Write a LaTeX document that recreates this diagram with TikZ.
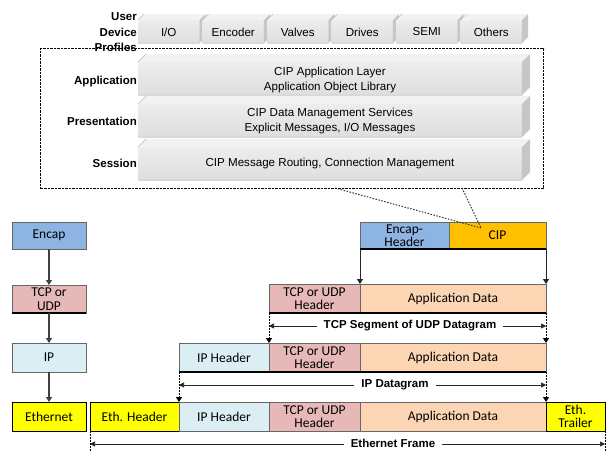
\documentclass[tikz,border=0pt]{standalone}
\usepackage{fontspec}
\setmainfont{Liberation Sans}
\newfontfamily\calib{Carlito}
\usetikzlibrary{arrows.meta}

\definecolor{encapblue}{HTML}{8EB4E3}
\definecolor{cipgold}{HTML}{FFC000}
\definecolor{tcppink}{HTML}{E6B9B8}
\definecolor{apppeach}{HTML}{FCD5B5}
\definecolor{iplight}{HTML}{DBEEF4}
\definecolor{ethyellow}{HTML}{FFFF00}

\tikzset{
  cell/.style={draw=black!60, line width=0.6pt, inner sep=0pt, outer sep=0pt,
    anchor=north west, align=center, font=\calib\fontsize{13.5}{13}\selectfont},
  slabtext/.style={font=\fontsize{11.6}{15}\selectfont, align=center, inner sep=0pt},
  layerlabel/.style={font=\bfseries\fontsize{11.5}{15.5}\selectfont, align=right,
    anchor=east, inner sep=0pt},
  dimlabel/.style={font=\bfseries\fontsize{11.5}{12}\selectfont, fill=white,
    inner xsep=7pt, inner ysep=1pt},
  flowarrow/.style={draw=black!75, line width=1.3pt, -{Triangle[length=5pt,width=6pt]}},
  encdrop/.style={draw=black!85, line width=1pt, -{Triangle[length=5pt,width=6pt]}},
  dimdrop/.style={draw=black, line width=1pt, dash pattern=on 2pt off 1pt,
    -{Triangle[length=5pt,width=6pt]}},
  dimtick/.style={draw=black, line width=1pt, dash pattern=on 2pt off 1pt},
  dimline/.style={draw=black!85, line width=0.7pt,
    {Triangle[length=5pt,width=5pt]}-{Triangle[length=5pt,width=5pt]}},
  rowbase/.style={draw=black, line width=2pt},
  calloutbox/.style={draw=black, line width=1.3pt, dash pattern=on 2.5pt off 1pt,
    anchor=north west, inner sep=0pt},
  calloutline/.style={draw=black!80, line width=1pt, dash pattern=on 1.5pt off 1.5pt},
}

% coloured protocol cell: name, x1, y1, x2, y2, fill, text
\newcommand\cellat[7]{%
  \pgfmathsetmacro\cellw{#4-#2}\pgfmathsetmacro\cellh{#5-#3}%
  \node[cell, fill=#6, minimum width=\cellw pt, minimum height=\cellh pt] (#1) at (#2,#3) {#7};}

% grey 3-D block: x1, y1, x2, y2, depth
\newcommand\slab[5]{%
  \fill[gray!10] (#1,#2) -- (#1+#5,#2-#5) -- (#3+#5,#2-#5) -- (#3,#2) -- cycle;
  \fill[gray!45] (#3,#2) -- (#3+#5,#2-#5) -- (#3+#5,#4-#5) -- (#3,#4) -- cycle;
  \shade[top color=gray!14, bottom color=gray!26] (#1,#2) rectangle (#3,#4);
  \draw[gray!55, line width=0.4pt] (#1,#2) -- (#1+#5,#2-#5) (#1,#4) -- (#3,#4) -- (#3,#2);
}

\begin{document}
\begin{tikzpicture}[x=1pt,y=-1pt]
\clip (0,0) rectangle (607,450);
\fill[white] (0,0) rectangle (607,450);

% ---------- CIP stack ----------
\node[calloutbox, minimum width=503pt, minimum height=140pt] (cbox) at (40,48) {};

\foreach \lab [count=\i from 0] in {I/O,Encoder,Valves,Drives,SEMI,Others}{
  \pgfmathsetmacro\xa{138+64.5*\i}
  \slab{\xa}{20}{\xa+61.5}{43}{6}
  \node[slabtext] (prof\i) at (\xa+30.75,32) {\lab};
}

\slab{138}{62}{522}{95}{8}
\slab{138}{104}{522}{137}{8}
\slab{138}{147}{522}{180}{8}

\node[slabtext] (applayer) at (330,79.5) {CIP Application Layer\\Application Object Library};
\node[slabtext] (preslayer) at (330,120.5) {CIP Data Management Services\\Explicit Messages, I/O Messages};
\node[slabtext] (sesslayer) at (330,163) {CIP Message Routing, Connection Management};

\node[layerlabel] (lblprof) at (137,32.5) {User\\Device\\Profiles};
\node[layerlabel] (lblapp) at (137,82) {Application};
\node[layerlabel] (lblpres) at (137,121) {Presentation};
\node[layerlabel] (lblsess) at (137,163) {Session};

% ---------- left column: layer sequence ----------
\cellat{encapL}{12}{222}{86}{249}{encapblue}{Encap}
\cellat{tcpL}{12}{285}{86}{313}{tcppink}{TCP or\\[1.5pt]UDP}
\cellat{ipL}{12}{343}{86}{372}{iplight}{IP}
\cellat{ethL}{12}{402}{86}{431}{ethyellow, draw=black}{Ethernet}
\draw[rowbase] (tcpL.south west) -- (tcpL.south east);

\draw[flowarrow] (encapL.south) -- (tcpL.north);
\draw[flowarrow] (tcpL.south) -- (ipL.north);
\draw[flowarrow] (ipL.south) -- (ethL.north);

% ---------- encapsulation rows ----------
\cellat{encH}{360}{222}{449}{249}{encapblue}{Encap-\\Header}
\cellat{cip}{449}{222}{546}{249}{cipgold}{CIP}
\draw[rowbase] (encH.south west) -- (cip.south east);

\cellat{tcpH1}{269}{284}{360}{313}{tcppink}{TCP or UDP\\Header}
\cellat{app1}{360}{284}{546}{313}{apppeach}{Application Data}
\draw[rowbase] (tcpH1.south west) -- (app1.south east);

\cellat{ipH2}{179}{343}{269}{372}{iplight}{IP Header}
\cellat{tcpH2}{269}{343}{360}{372}{tcppink}{TCP or UDP\\Header}
\cellat{app2}{360}{343}{546}{372}{apppeach}{Application Data}
\draw[rowbase] (ipH2.south west) -- (app2.south east);

\cellat{ethH}{90}{402}{179}{431}{ethyellow, draw=black}{Eth. Header}
\cellat{ipH3}{179}{402}{269}{431}{iplight}{IP Header}
\cellat{tcpH3}{269}{402}{360}{431}{tcppink}{TCP or UDP\\Header}
\cellat{app3}{360}{402}{546}{431}{apppeach}{Application Data}
\cellat{ethT}{546}{402}{605}{431}{ethyellow, draw=black}{Eth.\\Trailer}

% drops from one row to the next
\draw[encdrop] (encH.south west) -- (app1.north west);
\draw[encdrop] (cip.south east) -- (app1.north east);
\draw[dimdrop] (tcpH1.south west) -- (tcpH2.north west);
\draw[dimdrop] (app1.south east) -- (app2.north east);
\draw[dimdrop] (ipH2.south west) -- (ipH3.north west);
\draw[dimdrop] (app2.south east) -- (app3.north east);
\coordinate (fl) at (90,452);
\coordinate (fr) at (605,452);
\draw[dimtick] (ethH.south west) -- (fl);
\draw[dimtick] (ethT.south east) -- (fr);

% extent markers
\coordinate (seg1) at (269,326); \coordinate (seg2) at (546,326);
\draw[dimline] (seg1) -- (seg2);
\node[dimlabel] (seglbl) at (410,326) {TCP Segment of UDP Datagram};

\coordinate (dg1) at (179,385); \coordinate (dg2) at (546,385);
\draw[dimline] (dg1) -- (dg2);
\node[dimlabel] (dglbl) at (395,385) {IP Datagram};

\coordinate (fr1) at (90,444); \coordinate (fr2) at (605,444);
\draw[dimline] (fr1) -- (fr2);
\node[dimlabel, inner ysep=0pt] (frlbl) at (393,443.5) {Ethernet Frame};

% callout from the CIP stack to the CIP payload
\coordinate (cfoot1) at (335,188);
\coordinate (cfoot2) at (462,188);
\coordinate (ctip) at (481,228);
\draw[calloutline] (cfoot1) -- (ctip);
\draw[calloutline] (cfoot2) -- (ctip);
\end{tikzpicture}
\end{document}
